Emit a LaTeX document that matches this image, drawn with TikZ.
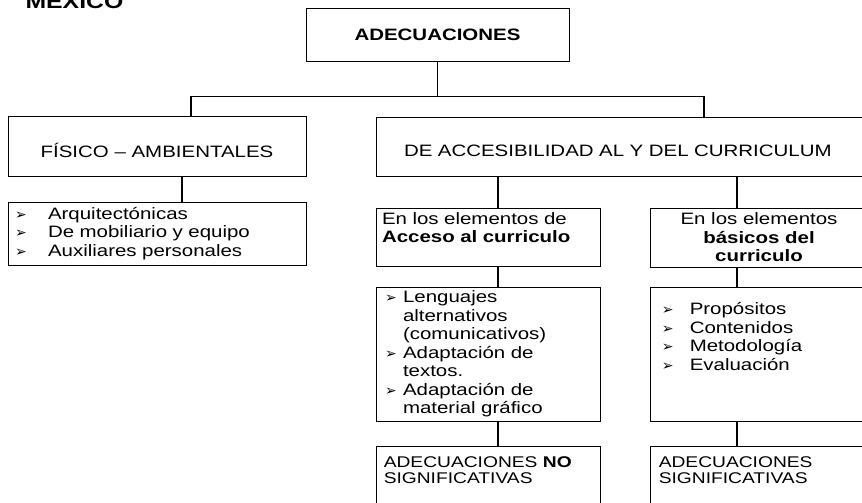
\documentclass[tikz,border=0pt]{standalone}
\usepackage{fontspec}
\usetikzlibrary{positioning}
\setmainfont[FakeStretch=1.24]{Liberation Sans}
\newfontfamily\dingfont{DejaVu Sans}
\newcommand{\diagsize}{\fontsize{16.5}{18.5}\selectfont}
\newcommand{\bul}[1]{\makebox[#1][l]{\dingfont\fontsize{14}{14}\selectfont ➢}}

\tikzset{
  box/.style={draw, rectangle, line width=0.9pt, inner sep=0pt},
  link/.style={line width=1.2pt},
}

\begin{document}
\begin{tikzpicture}[x=1pt, y=-1pt, every node/.style={font=\diagsize}]
  \useasboundingbox[fill=white] (0,0) rectangle (862,503);

  % Title
  \node[font=\fontsize{20}{24}\selectfont\bfseries, anchor=base west] (pais) at (22,9) {MEXICO};

  % Nodes
  \node[box, minimum width=263pt, minimum height=53pt] (adec) at (437.5,34.5) {\bfseries ADECUACIONES};
  \node[box, minimum width=298pt, minimum height=60pt, text height=24pt] (fis) at (157,146) {FÍSICO – AMBIENTALES};
  \node[box, text width=600pt, inner xsep=28pt, minimum height=59pt, text height=20pt, align=left] (acc) at (704,146.5) {DE ACCESIBILIDAD AL Y DEL CURRICULUM};

  \node[box, text width=284pt, inner xsep=7pt, minimum height=63pt, align=left] (fisl) at (157,233.5)
    {\bul{33pt}Arquitectónicas\\ \bul{33pt}De mobiliario y equipo\\ \bul{33pt}Auxiliares personales};
  \node[box, text width=212pt, inner xsep=6pt, minimum height=58pt, align=left] (ace) at (488,237)
    {En los elementos de\\ \textbf{Acceso al curriculo}\\ \mbox{}};
  \node[box, minimum width=218pt, minimum height=59pt, align=center] (bas) at (759,237.5)
    {En los elementos\\ \textbf{básicos del}\\ \textbf{curriculo}};

  \node[box, text width=206pt, inner xsep=9pt, minimum height=134pt, align=left] (acel) at (488,354)
    {\bul{18pt}Lenguajes\\ \hspace*{18pt}alternativos\\ \hspace*{18pt}(comunicativos)\\
     \bul{18pt}Adaptación de\\ \hspace*{18pt}textos.\\
     \bul{18pt}Adaptación de\\ \hspace*{18pt}material gráfico};
  \node[box, minimum width=218pt, minimum height=134pt] (basl) at (759,354) {};
  \node[below right=16pt and 12pt of basl.north west, inner sep=0pt, align=left] (basltxt)
    {\bul{28pt}Propósitos\\ \bul{28pt}Contenidos\\ \bul{28pt}Metodología\\ \bul{28pt}Evaluación};

  \node[box, minimum width=224pt, minimum height=74pt] (nosig) at (488,483) {};
  \node[below right=11pt and 8pt of nosig.north west, inner sep=0pt, align=left, font=\fontsize{15.5}{16}\selectfont] (nosigtxt)
    {ADECUACIONES \textbf{NO}\\ SIGNIFICATIVAS};
  \node[box, minimum width=218pt, minimum height=74pt] (sig) at (759,483) {};
  \node[below right=11pt and 9pt of sig.north west, inner sep=0pt, align=left, font=\fontsize{15.5}{16}\selectfont] (sigtxt)
    {ADECUACIONES\\ SIGNIFICATIVAS};

  % Edges
  \draw[link] (adec.south) -- ++(0,35) coordinate (split);
  \draw[link] ([xshift=34pt]fis.north) |- (split) -| (acc.north);
  \draw[link] ([xshift=25pt]fis.south) -- ([xshift=25pt]fisl.north);
  \draw[link] ([xshift=10pt]ace.north) -- ([xshift=10pt]ace.north |- acc.south);
  \draw[link] ([xshift=-22pt]bas.north) -- ([xshift=-22pt]bas.north |- acc.south);
  \draw[link] ([xshift=10pt]ace.south) -- ([xshift=10pt]acel.north);
  \draw[link] ([xshift=-22pt]bas.south) -- ([xshift=-22pt]basl.north);
  \draw[link] ([xshift=10pt]acel.south) -- ([xshift=10pt]nosig.north);
  \draw[link] ([xshift=-22pt]basl.south) -- ([xshift=-22pt]sig.north);
\end{tikzpicture}
\end{document}
